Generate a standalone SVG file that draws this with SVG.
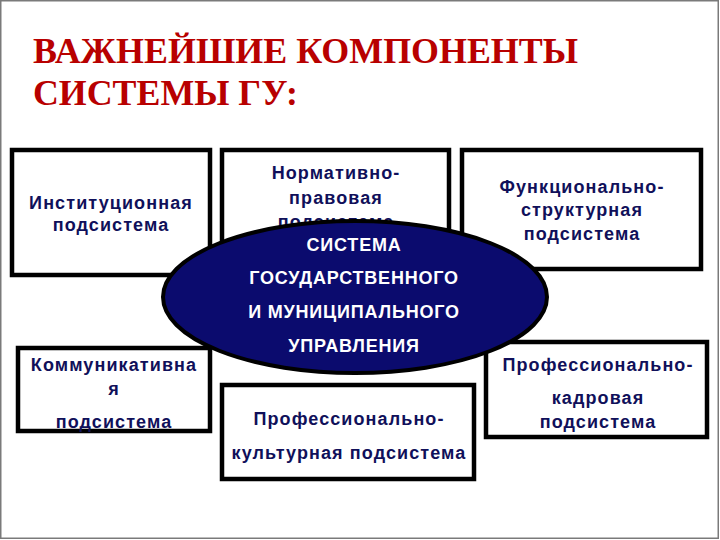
<svg xmlns="http://www.w3.org/2000/svg" width="720" height="540" viewBox="0 0 720 540">
<style>
.frame{fill:#ffffff;stroke:#7a7a7a;stroke-width:1.5}
.title{font-family:"Liberation Serif","Times New Roman",serif;font-weight:bold;font-size:36px;fill:#b80000}
.box{fill:#ffffff;stroke:#000000;stroke-width:4.5}
.lbl{font-family:"Liberation Sans",Arial,sans-serif;font-weight:bold;font-size:18px;fill:#10105a;text-anchor:middle;letter-spacing:1.1px}
.core{fill:#0b0b6e;stroke:#000000;stroke-width:4}
.corelbl{font-family:"Liberation Sans",Arial,sans-serif;font-weight:bold;font-size:18px;fill:#ffffff;text-anchor:middle;letter-spacing:0.8px}
</style>
<rect class="frame" x="0.75" y="0.75" width="717.5" height="537.5"/>
<g id="title">
<text class="title" x="33" y="63" textLength="545" lengthAdjust="spacingAndGlyphs">ВАЖНЕЙШИЕ КОМПОНЕНТЫ</text>
<text class="title" x="33" y="105" textLength="265" lengthAdjust="spacingAndGlyphs">СИСТЕМЫ ГУ:</text>
</g>
<g id="connectors"></g>
<g id="institutional">
<rect class="box" x="12" y="150" width="198" height="125"/>
<text class="lbl" x="111" y="209">Институционная</text>
<text class="lbl" x="111" y="231">подсистема</text>
</g>
<g id="normative">
<rect class="box" x="222" y="150" width="227" height="125"/>
<text class="lbl" x="336" y="179">Нормативно-</text>
<text class="lbl" x="336" y="204">правовая</text>
<text class="lbl" x="336" y="228">подсистема</text>
</g>
<g id="functional">
<rect class="box" x="462" y="150" width="239" height="119"/>
<text class="lbl" x="582" y="193">Функционально-</text>
<text class="lbl" x="582" y="216">структурная</text>
<text class="lbl" x="582" y="240">подсистема</text>
</g>
<g id="communicative">
<rect class="box" x="18" y="348" width="192" height="83"/>
<text class="lbl" x="114" y="371">Коммуникативна</text>
<text class="lbl" x="114" y="395">я</text>
<text class="lbl" x="114" y="428">подсистема</text>
</g>
<g id="prof-cultural">
<rect class="box" x="222" y="385" width="252" height="94"/>
<text class="lbl" x="349" y="425">Профессионально-</text>
<text class="lbl" x="349" y="459">культурная подсистема</text>
</g>
<g id="prof-personnel">
<rect class="box" x="486" y="342" width="221" height="95"/>
<text class="lbl" x="598" y="371">Профессионально-</text>
<text class="lbl" x="598" y="404">кадровая</text>
<text class="lbl" x="598" y="428">подсистема</text>
</g>
<g id="core">
<ellipse class="core" cx="355" cy="297" rx="192" ry="76"/>
<text class="corelbl" x="354" y="251">СИСТЕМА</text>
<text class="corelbl" x="354" y="284">ГОСУДАРСТВЕННОГО</text>
<text class="corelbl" x="354" y="318">И МУНИЦИПАЛЬНОГО</text>
<text class="corelbl" x="354" y="352">УПРАВЛЕНИЯ</text>
</g>
</svg>
